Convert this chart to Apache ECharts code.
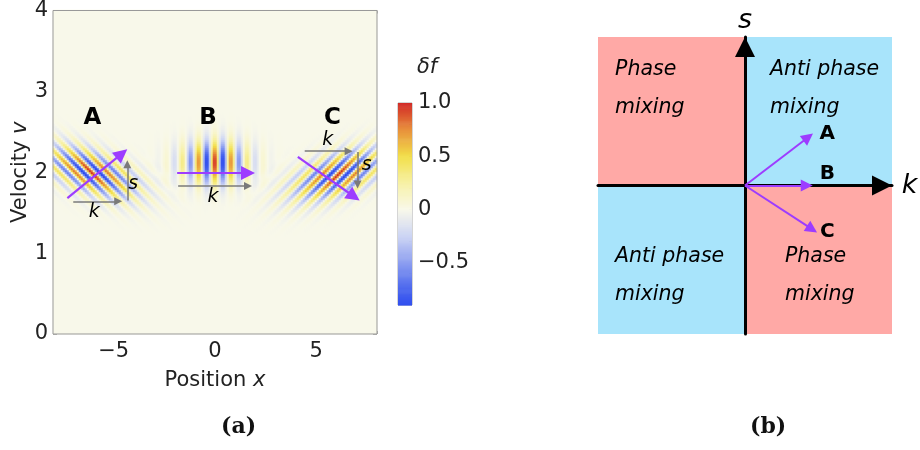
<!DOCTYPE html>
<html>
<head>
<meta charset="utf-8">
<script src="https://cdn.jsdelivr.net/npm/echarts@6/dist/echarts.min.js"></script>
<style>
  html, body { margin: 0; padding: 0; background: #ffffff; }
  #chart { width: 920px; height: 450px; }
</style>
</head>
<body>
<div id="chart"></div>
<script>
// ---- wave packets in phase space (position x, velocity v) ----
const packetNames = ['A', 'B', 'C'];
const packetX = [-6.1, 0.0, 6.1];
const packetV = [2.0, 2.12, 1.97];
const packetShear = [-4.0, 0.0, 4.0];   // tilt of the phase fronts (dx/dv)
const packetAmp = [1.0, 1.0, 1.0];
const packetWidthX = [1.25, 1.1, 1.25];
const packetWidthV = [0.22, 0.18, 0.22];
const waveNumber = 7.8;                  // spatial wave number k

const xRange = [-8, 8];
const vRange = [0, 4];
const nx = 162;
const nv = 162;

// wave-vector arrows drawn on top of each packet, in (x, v)
const waveArrows = [
  [[-7.29, 1.68], [-4.60, 2.23]],
  [[-1.87, 1.99], [1.63, 1.99]],
  [[4.09, 2.19], [6.86, 1.70]]
];
const kArrows = [
  [[-7.0, 1.64], [-4.78, 1.64]],
  [[-1.82, 1.83], [1.63, 1.83]],
  [[4.43, 2.26], [6.6, 2.26]]
];
const sArrows = [
  [[-4.33, 1.65], [-4.33, 2.10]],
  [[7.04, 2.25], [7.04, 1.85]]
];
const kLabelPos = [[-5.96, 1.51], [-0.1, 1.69], [5.57, 2.40]];
const sLabelPos = [[-4.04, 1.86], [7.49, 2.09]];
const letterPos = [[-6.06, 2.67], [-0.34, 2.67], [5.8, 2.67]];

// colour scale
const colorTicks = [-0.5, 0, 0.5, 1.0];
const colorRange = [-0.9, 1.0];

// ---- (k, s) diagram ----
const quadrantK = [[-1, 0], [0, 1], [-1, 0], [0, 1]];
const quadrantS = [[0, 1], [0, 1], [-1, 0], [-1, 0]];
const quadrantMixing = ['phase', 'anti', 'anti', 'phase'];
const quadrantText = ['Phase\nmixing', 'Anti phase\nmixing', 'Anti phase\nmixing', 'Phase\nmixing'];
const quadrantTextPos = [[-0.884, 0.653], [0.17, 0.653], [-0.884, -0.606], [0.272, -0.606]];
const vectorK = [0.43, 0.42, 0.456];
const vectorS = [0.325, 0.0, -0.294];
const vectorLabelPos = [[0.56, 0.35], [0.56, 0.08], [0.56, -0.31]];

const FONT = 'DejaVu Sans';
const PURPLE = '#9d3cff';
const ARROW_GREY = '#7a7a7a';
const PINK = '#ffa9a6';
const SKY = '#a8e4fb';
const LABEL_SIZE = 21;

function deltaF(x, v) {
  let f = 0;
  for (let p = 0; p < packetX.length; p++) {
    const dv = v - packetV[p];
    const xi = (x - packetX[p]) - packetShear[p] * dv;
    const wx = packetWidthX[p], wv = packetWidthV[p];
    f += packetAmp[p] *
      Math.exp(-xi * xi / (2 * wx * wx) - dv * dv / (2 * wv * wv)) *
      Math.cos(waveNumber * xi);
  }
  return f;
}

const heatData = [];
for (let i = 0; i < nx; i++) {
  const x = xRange[0] + (i + 0.5) * (xRange[1] - xRange[0]) / nx;
  for (let j = 0; j < nv; j++) {
    const v = vRange[0] + (j + 0.5) * (vRange[1] - vRange[0]) / nv;
    heatData.push([i, j, deltaF(x, v)]);
  }
}
const xCats = Array.from({ length: nx }, (_, i) => i);
const vCats = Array.from({ length: nv }, (_, j) => j);

// colour bar levels
const barStep = 0.01;
const barLevels = [];
for (let l = colorRange[0]; l < colorRange[1] - 1e-9; l += barStep) {
  barLevels.push([0, l, l + barStep / 2]);
}

function fmtNum(v) {
  if (v === 0) return '0';
  const a = Math.abs(v);
  const s = (a === 1) ? '1.0' : String(a);
  return (v < 0 ? '\u2212' : '') + s;
}

const arrowLines = (list, color, width, head) => ({
  type: 'lines',
  coordinateSystem: 'cartesian2d',
  xAxisIndex: 1, yAxisIndex: 1,
  symbol: ['none', 'triangle'],
  symbolSize: head,
  lineStyle: { color: color, width: width, opacity: 1 },
  data: list.map(c => ({ coords: c })),
  z: 5
});

const textScatter = (xi, yi, items, style) => ({
  type: 'scatter',
  xAxisIndex: xi, yAxisIndex: yi,
  symbolSize: 0,
  clip: false,
  itemStyle: { opacity: 1 },
  data: items,
  label: Object.assign({ show: true, formatter: p => p.data.name, fontFamily: FONT, color: '#000',
    opacity: 1, textBorderWidth: 0 }, style),
  z: 6
});

const frameAxis = {
  type: 'value', gridIndex: 1,
  axisLine: { show: false, onZero: false },
  splitLine: { show: false },
  axisTick: { show: true, inside: true, length: 4, lineStyle: { color: '#999' } },
  axisLabel: { fontFamily: FONT, fontSize: LABEL_SIZE, color: '#222' }
};
const nameRich = {
  n: { fontFamily: FONT, fontSize: LABEL_SIZE, color: '#222' },
  i: { fontFamily: FONT, fontSize: LABEL_SIZE, fontStyle: 'italic', color: '#222' }
};

const chart = echarts.init(document.getElementById('chart'), null, { renderer: 'canvas' });

chart.setOption({
  animation: false,
  backgroundColor: '#ffffff',
  grid: [
    { left: 53, top: 10, width: 324, height: 324, show: false },
    { left: 53, top: 10, width: 324, height: 324, show: true, borderColor: '#999', borderWidth: 1, backgroundColor: 'transparent', z: 3 },
    { left: 398, top: 103, width: 14, height: 202, show: true, borderColor: '#aaa', borderWidth: 1 },
    { left: 598, top: 37, width: 294, height: 297, show: false }
  ],
  xAxis: [
    { type: 'category', gridIndex: 0, data: xCats, show: false },
    Object.assign({}, frameAxis, {
      position: 'bottom', min: xRange[0], max: xRange[1], interval: 1,
      axisTick: { show: true, inside: true, length: 3, lineStyle: { color: '#999' } },
      axisLabel: { fontFamily: FONT, fontSize: LABEL_SIZE, color: '#222', interval: 0, margin: 7, hideOverlap: false,
        formatter: v => (v % 5 === 0 ? fmtNum(v) : '') },
      name: '{n|Position }{i|x}', nameLocation: 'middle', nameGap: 36,
      nameTextStyle: { rich: nameRich }
    }),
    Object.assign({}, frameAxis, {
      position: 'top', min: xRange[0], max: xRange[1], interval: 1,
      axisTick: { show: true, inside: true, length: 3, lineStyle: { color: '#999' } },
      axisLabel: { show: false }
    }),
    { type: 'value', gridIndex: 2, min: 0, max: 1, show: false },
    {
      type: 'value', gridIndex: 3, min: -1, max: 1,
      axisLine: { show: true, onZero: true, symbol: ['none', 'triangle'], symbolSize: [20, 20], symbolOffset: [0, -10],
        lineStyle: { color: '#000', width: 3 } },
      axisTick: { show: false }, axisLabel: { show: false }, splitLine: { show: false }, z: 4
    }
  ],
  yAxis: [
    { type: 'category', gridIndex: 0, data: vCats, show: false },
    Object.assign({}, frameAxis, {
      position: 'left', min: vRange[0], max: vRange[1], interval: 1,
      minorTick: { show: true, splitNumber: 5, length: 2, lineStyle: { color: '#999' } },
      axisLabel: { fontFamily: FONT, fontSize: LABEL_SIZE, color: '#222', margin: 5 },
      name: '{n|Velocity }{i|v}', nameLocation: 'middle', nameGap: 17, nameRotate: 90,
      nameTextStyle: { rich: nameRich }
    }),
    Object.assign({}, frameAxis, {
      position: 'right', min: vRange[0], max: vRange[1], interval: 1,
      minorTick: { show: true, splitNumber: 5, length: 2, lineStyle: { color: '#999' } },
      axisLabel: { show: false }
    }),
    {
      type: 'value', gridIndex: 2, position: 'right', min: colorRange[0], max: colorRange[1],
      axisLine: { show: false, onZero: false }, splitLine: { show: false },
      axisTick: { show: true, inside: true, length: 3, lineStyle: { color: '#999' },
        customValues: [-0.8, -0.7, -0.6, -0.5, -0.4, -0.3, -0.2, -0.1, 0, 0.1, 0.2, 0.3, 0.4, 0.5, 0.6, 0.7, 0.8, 0.9] },
      axisLabel: { customValues: colorTicks, formatter: v => fmtNum(v), fontFamily: FONT, fontSize: LABEL_SIZE, color: '#222', margin: 6 }
    },
    {
      type: 'value', gridIndex: 3, min: -1, max: 1,
      axisLine: { show: true, onZero: true, symbol: ['none', 'triangle'], symbolSize: [20, 20], symbolOffset: [0, -10],
        lineStyle: { color: '#000', width: 3 } },
      axisTick: { show: false }, axisLabel: { show: false }, splitLine: { show: false }, z: 4
    }
  ],
  visualMap: {
    type: 'continuous', show: false, min: -1, max: 1, dimension: 2, seriesIndex: [0, 1],
    inRange: { color: ['#1f3ff0', '#4a66ee', '#8c9ef0', '#ccd4f4', '#f8f8ea', '#f7f1a6', '#f2df4a', '#e8913c', '#d22a26'] }
  },
  graphic: [
    { type: 'text', left: 417, top: 57, style: { text: 'δf', font: 'italic 21px "DejaVu Sans"', fill: '#222' } },
    { type: 'text', left: 221, top: 416, style: { text: '(a)', font: 'bold 22px "DejaVu Serif"', fill: '#111' } },
    { type: 'text', left: 750, top: 416, style: { text: '(b)', font: 'bold 22px "DejaVu Serif"', fill: '#111' } }
  ],
  series: [
    {
      type: 'heatmap', xAxisIndex: 0, yAxisIndex: 0, data: heatData,
      progressive: 0, emphasis: { disabled: true }, z: 1
    },
    {
      type: 'custom', xAxisIndex: 3, yAxisIndex: 3, data: barLevels,
      renderItem: (params, api) => {
        const lo = api.value(1);
        const a = api.coord([0, lo]);
        const b = api.coord([1, Math.min(lo + barStep, colorRange[1])]);
        return { type: 'rect', shape: { x: a[0], y: b[1], width: b[0] - a[0], height: a[1] - b[1] + 0.6 },
          style: { fill: api.visual('color') } };
      }
    },
    arrowLines(kArrows.concat(sArrows), ARROW_GREY, 1.5, 8),
    arrowLines(waveArrows, PURPLE, 2.2, 14),
    textScatter(1, 1, packetNames.map((n, i) => ({ name: n, value: letterPos[i] })),
      { fontSize: 23, fontWeight: 'bold', position: 'inside' }),
    textScatter(1, 1, kLabelPos.map(p => ({ name: 'k', value: p })),
      { fontSize: 19, fontStyle: 'italic', position: 'inside' }),
    textScatter(1, 1, sLabelPos.map(p => ({ name: 's', value: p })),
      { fontSize: 19, fontStyle: 'italic', position: 'inside' }),
    // quadrants of the (k, s) plane
    {
      type: 'custom', xAxisIndex: 4, yAxisIndex: 4,
      data: quadrantK.map((k, i) => [k[0], k[1], quadrantS[i][0], quadrantS[i][1], i]),
      renderItem: (params, api) => {
        const a = api.coord([api.value(0), api.value(3)]);
        const b = api.coord([api.value(1), api.value(2)]);
        const kind = quadrantMixing[api.value(4)];
        return { type: 'rect', shape: { x: a[0], y: a[1], width: b[0] - a[0], height: b[1] - a[1] },
          style: { fill: kind === 'phase' ? PINK : SKY } };
      },
      z: 1
    },
    textScatter(4, 4, quadrantText.map((t, i) => ({ name: t, value: quadrantTextPos[i] })),
      { fontSize: 20.5, fontStyle: 'italic', position: 'right', distance: 0, lineHeight: 38, align: 'left' }),
    {
      type: 'lines', coordinateSystem: 'cartesian2d', xAxisIndex: 4, yAxisIndex: 4,
      symbol: ['none', 'triangle'], symbolSize: 12,
      lineStyle: { color: PURPLE, width: 2, opacity: 1 },
      data: vectorK.map((k, i) => ({ coords: [[0, 0], [k, vectorS[i]]] })),
      z: 5
    },
    textScatter(4, 4, packetNames.map((n, i) => ({ name: n, value: vectorLabelPos[i] })),
      { fontSize: 20, fontWeight: 'bold', position: 'inside' }),
    textScatter(4, 4, [{ name: 's', value: [0, 1.11] }, { name: 'k', value: [1.12, 0] }],
      { fontSize: 27, fontStyle: 'italic', position: 'inside' })
  ]
});
</script>
</body>
</html>
